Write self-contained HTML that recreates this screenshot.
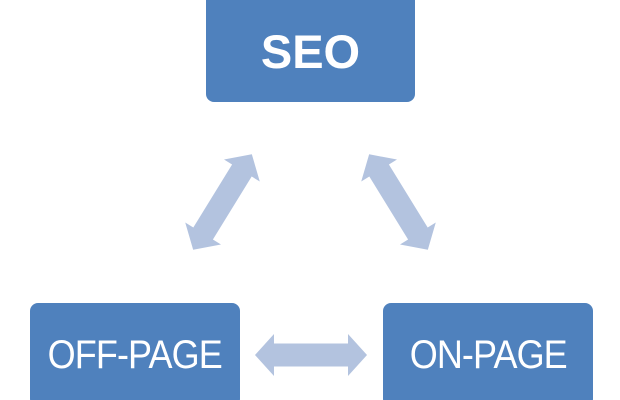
<!DOCTYPE html>
<html><head><style>
html,body{margin:0;width:620px;height:400px;background:#fff;overflow:hidden;position:relative;font-family:"Liberation Sans",sans-serif}
.b{position:absolute;background:#4f81bd;border-radius:8px;color:#fff;display:flex;align-items:center;justify-content:center}
</style></head><body>
<div class="b" style="left:206px;top:0;width:209px;height:102px;border-radius:0 0 8px 8px;font-weight:bold;font-size:47px">SEO</div>
<div class="b" style="left:30px;top:303px;width:210px;height:104px;font-size:40px;padding-bottom:0px;box-sizing:border-box;letter-spacing:-1px"><span style="display:inline-block;transform:scaleX(0.9)">OFF-PAGE</span></div>
<div class="b" style="left:383px;top:303px;width:210px;height:104px;font-size:40px;padding-bottom:0px;box-sizing:border-box;letter-spacing:-1px"><span style="display:inline-block;transform:scaleX(0.9)">ON-PAGE</span></div>
<svg width="620" height="400" style="position:absolute;left:0;top:0">
<defs><polygon id="a" points="-56,0 -37,-21 -37,-11.5 37,-11.5 37,-21 56,0 37,21 37,11.5 -37,11.5 -37,21" fill="#b3c3df"/></defs>
<use href="#a" transform="translate(311,355)"/>
<use href="#a" transform="translate(222.5,202) rotate(-58.4)"/>
<use href="#a" transform="translate(398.5,202) rotate(58.4)"/>
</svg>
</body></html>
